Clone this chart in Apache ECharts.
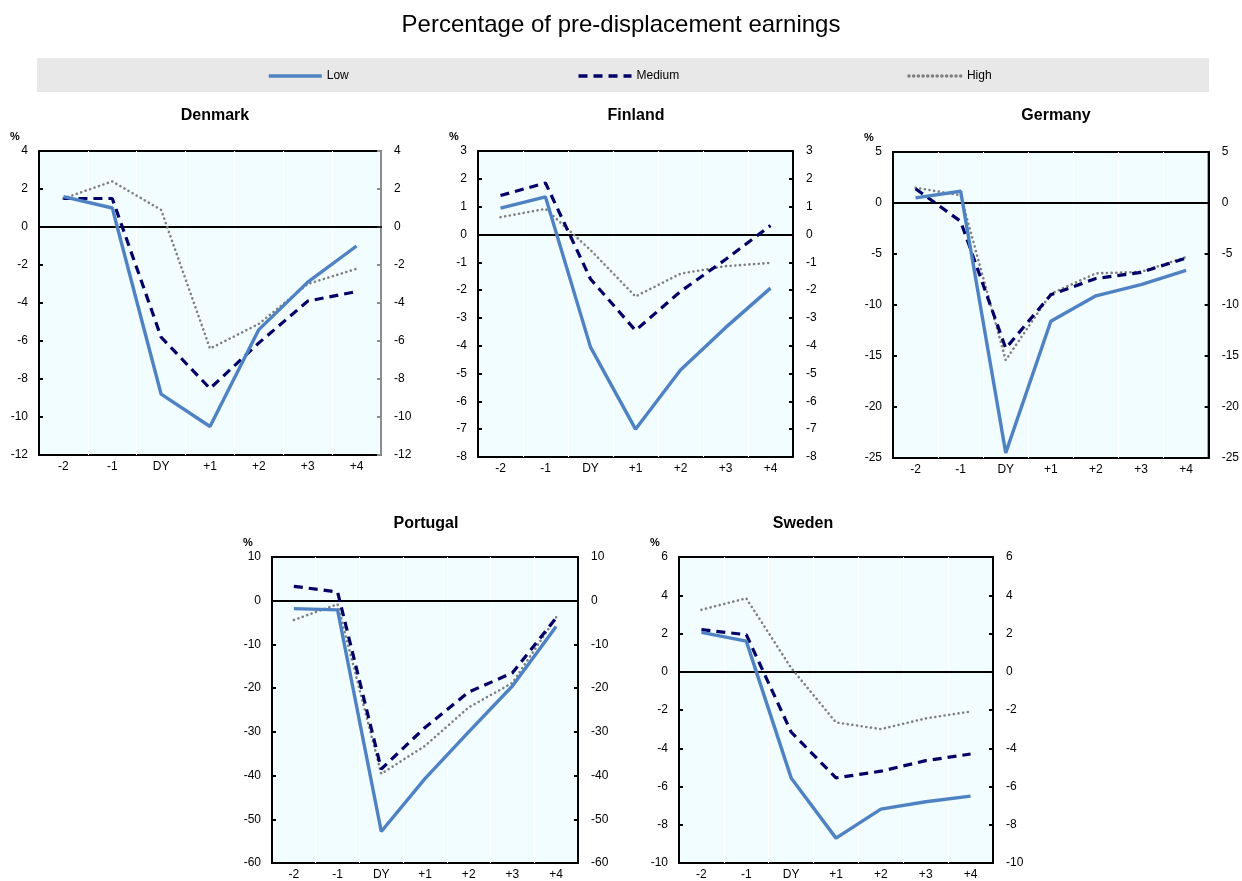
<!DOCTYPE html>
<html>
<head>
<meta charset="utf-8">
<script src="https://cdn.jsdelivr.net/npm/echarts@6/dist/echarts.min.js"></script>
<style>
  html, body { margin: 0; padding: 0; background: #fff; }
  #chart { width: 1242px; height: 881px; }
</style>
</head>
<body>
<div id="chart"></div>
<script>
// Years relative to displacement (DY = displacement year)
const categories = ['-2', '-1', 'DY', '+1', '+2', '+3', '+4'];
const levels = ['Low', 'Medium', 'High'];
const countries = ['Denmark', 'Finland', 'Germany', 'Portugal', 'Sweden'];

// Earnings relative to pre-displacement level, %
const denmarkLow    = [1.6, 1.0, -8.8, -10.5, -5.4, -2.9, -1.0];
const denmarkMedium = [1.5, 1.5, -5.8, -8.5, -6.1, -3.9, -3.4];
const denmarkHigh   = [1.5, 2.4, 0.9, -6.4, -5.1, -3.0, -2.2];

const finlandLow    = [0.95, 1.35, -4.05, -7.0, -4.87, -3.35, -1.93];
const finlandMedium = [1.4, 1.85, -1.6, -3.45, -2.05, -0.9, 0.32];
const finlandHigh   = [0.62, 0.92, -0.56, -2.23, -1.41, -1.14, -1.02];

const germanyLow    = [0.5, 1.15, -24.5, -11.6, -9.1, -8.0, -6.6];
const germanyMedium = [1.4, -1.8, -14.25, -9.0, -7.4, -6.8, -5.4];
const germanyHigh   = [1.5, 0.75, -15.4, -8.9, -6.9, -6.75, -5.3];

const portugalLow    = [-1.8, -2.1, -52.8, -40.7, -30.0, -19.5, -5.9];
const portugalMedium = [3.3, 2.0, -38.5, -29.0, -20.9, -16.5, -3.9];
const portugalHigh   = [-4.4, -0.8, -39.6, -33.2, -24.4, -18.8, -3.8];

const swedenLow    = [2.06, 1.6, -5.55, -8.7, -7.18, -6.8, -6.5];
const swedenMedium = [2.2, 1.94, -3.15, -5.55, -5.2, -4.65, -4.3];
const swedenHigh   = [3.24, 3.84, 0.2, -2.65, -3.0, -2.44, -2.08];

// Value-axis ranges for each panel: [min, max, interval]
const denmarkAxis  = [-12, 4, 2];
const finlandAxis  = [-8, 3, 1];
const germanyAxis  = [-25, 5, 5];
const portugalAxis = [-60, 10, 10];
const swedenAxis   = [-10, 6, 2];

const panelData = {
  Denmark:  { series: [denmarkLow, denmarkMedium, denmarkHigh], axis: denmarkAxis },
  Finland:  { series: [finlandLow, finlandMedium, finlandHigh], axis: finlandAxis },
  Germany:  { series: [germanyLow, germanyMedium, germanyHigh], axis: germanyAxis },
  Portugal: { series: [portugalLow, portugalMedium, portugalHigh], axis: portugalAxis },
  Sweden:   { series: [swedenLow, swedenMedium, swedenHigh], axis: swedenAxis }
};

// Panel placement in pixels (titleX / titleY: position of the panel heading)
const panelBoxes = {
  Denmark:  { left: 39,  top: 151, width: 342, height: 304, rightLine: '#8c8c8c', titleX: 215,  titleY: 108 },
  Finland:  { left: 478, top: 151, width: 315, height: 306, rightLine: '#000',    titleX: 636,  titleY: 108 },
  Germany:  { left: 893, top: 152, width: 316, height: 306, rightLine: '#000',    titleX: 1056, titleY: 108 },
  Portugal: { left: 272, top: 557, width: 306, height: 308, rightLine: '#000',    titleX: 426,  titleY: 516 },
  Sweden:   { left: 679, top: 557, width: 314, height: 308, rightLine: '#000',    titleX: 803,  titleY: 516 }
};

const FONT = '"Liberation Sans", Arial, sans-serif';
const lineStyles = {
  Low:    { color: '#4f82c2', width: 3.4, type: 'solid' },
  Medium: { color: '#000066', width: 3.2, type: [9, 6], cap: 'butt' },
  High:   { color: '#808080', width: 2.6, type: [0.1, 4.6], cap: 'round' }
};

const grid = [], xAxis = [], yAxis = [], series = [], graphic = [];
const title = [{
  text: 'Percentage of pre-displacement earnings',
  left: 'center', top: 8,
  textStyle: { fontFamily: FONT, fontSize: 24, fontWeight: 'normal', color: '#000' }
}];

// Legend band
graphic.push({
  type: 'rect', left: 37, top: 58, z: -10,
  shape: { width: 1172, height: 34 },
  style: { fill: '#e8e8e8' }
});

countries.forEach((name, i) => {
  const box = panelBoxes[name];
  const d = panelData[name];
  const [mn, mx, step] = d.axis;
  grid.push({
    left: box.left, top: box.top, width: box.width, height: box.height,
    show: true, backgroundColor: '#f2fdff', borderColor: '#000', borderWidth: 2
  });
  xAxis.push({
    type: 'category', gridIndex: i, data: categories, boundaryGap: true,
    axisLine: { show: true, lineStyle: { color: '#000', width: 2 } },
    axisTick: { show: false },
    axisLabel: { color: '#000', fontFamily: FONT, fontSize: 12, margin: 6 },
    splitLine: { show: true, lineStyle: { color: '#ffffff', width: 1 } }
  });
  const yCommon = {
    type: 'value', gridIndex: i, min: mn, max: mx, interval: step,
    splitLine: { show: false },
    axisLabel: { color: '#000', fontFamily: FONT, fontSize: 12 }
  };
  yAxis.push(Object.assign({}, yCommon, {
    position: 'left',
    axisLine: { show: true, lineStyle: { color: '#000', width: 2 } },
    axisTick: { show: true, inside: true, length: 4, lineStyle: { color: '#000', width: 2 } },
    axisLabel: Object.assign({}, yCommon.axisLabel, { margin: 11 })
  }));
  yAxis.push(Object.assign({}, yCommon, {
    position: 'right',
    axisLine: { show: true, lineStyle: { color: box.rightLine, width: 2 } },
    axisTick: { show: true, inside: true, length: 4, lineStyle: { color: box.rightLine, width: 2 } },
    axisLabel: Object.assign({}, yCommon.axisLabel, { margin: 13 })
  }));

  levels.forEach((lv, k) => {
    const s = {
      type: 'line', name: lv, xAxisIndex: i, yAxisIndex: i * 2,
      data: d.series[k], symbol: 'none', smooth: false,
      lineStyle: lineStyles[lv], itemStyle: { color: lineStyles[lv].color },
      z: 10 - k, animation: false
    };
    if (k === 0) {
      // zero reference line
      s.markLine = {
        silent: true, symbol: 'none', label: { show: false },
        lineStyle: { color: '#000', width: 1.6, type: 'solid' },
        data: [{ yAxis: 0 }], animation: false
      };
    }
    series.push(s);
  });

  // Panel heading and unit
  title.push({
    text: name, left: box.titleX, top: box.titleY, textAlign: 'center', padding: 0,
    textStyle: { fontFamily: FONT, fontSize: 16, fontWeight: 'bold', color: '#000' }
  });
  graphic.push({
    type: 'text', left: box.left - 29, top: box.top - 20,
    style: { text: '%', font: 'bold 11px ' + FONT, fill: '#000' }
  });
});

const chart = echarts.init(document.getElementById('chart'), null, { renderer: 'canvas' });
chart.setOption({
  animation: false,
  title,
  legend: {
    data: levels, left: 262, top: 65, itemWidth: 53, itemHeight: 12, itemGap: 228,
    itemStyle: { opacity: 0 },
    lineStyle: { width: 3.5 },
    textStyle: { fontFamily: FONT, fontSize: 12, color: '#000' }
  },
  grid, xAxis, yAxis, series, graphic
});
</script>
</body>
</html>
